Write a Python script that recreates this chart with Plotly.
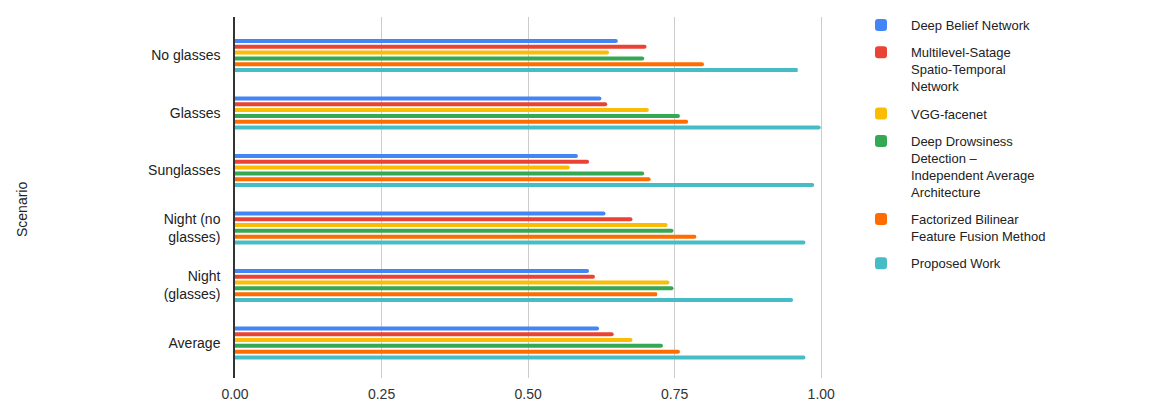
import plotly.graph_objects as go

# Scenario categories (top to bottom) and their axis tick labels
scenarios = ["No glasses", "Glasses", "Sunglasses", "Night (no glasses)", "Night (glasses)", "Average"]
scenario_ticks = ["No glasses", "Glasses", "Sunglasses", "Night (no<br>glasses)", "Night<br>(glasses)", "Average"]

# Methods compared (legend names) and their colours
methods = [
    "Deep Belief Network",
    "Multilevel-Satage<br>Spatio-Temporal<br>Network",
    "VGG-facenet",
    "Deep Drowsiness<br>Detection –<br>Independent Average<br>Architecture",
    "Factorized Bilinear<br>Feature Fusion Method",
    "Proposed Work",
]
colors = ["#4285F4", "#EA4335", "#FBBC04", "#34A853", "#FF6D01", "#46BDC6"]

# Accuracy per scenario for each method
deep_belief = [0.653, 0.625, 0.585, 0.632, 0.604, 0.621]
multilevel_stn = [0.702, 0.635, 0.604, 0.678, 0.614, 0.646]
vgg_facenet = [0.638, 0.706, 0.571, 0.738, 0.741, 0.678]
deep_drowsiness = [0.698, 0.759, 0.698, 0.748, 0.748, 0.730]
factorized_bilinear = [0.800, 0.773, 0.709, 0.787, 0.720, 0.759]
proposed_work = [0.960, 0.999, 0.988, 0.973, 0.952, 0.973]

series = [deep_belief, multilevel_stn, vgg_facenet, deep_drowsiness, factorized_bilinear, proposed_work]

x_ticks = [0.0, 0.25, 0.5, 0.75, 1.0]

FONT = "Liberation Sans, Arial, sans-serif"

fig = go.Figure()
for i, (name, vals, col) in enumerate(zip(methods, series, colors)):
    fig.add_trace(go.Bar(
        y=scenarios,
        x=vals,
        name=name,
        orientation="h",
        marker=dict(color=col, line=dict(width=0), cornerradius=2),
        legendgroup=f"g{i}",
    ))

W, H = 1173, 401
ML, MR, MT, MB = 235, 350, 17, 23
plot_w = W - ML - MR
plot_h = H - MT - MB

fig.update_layout(
    width=W,
    height=H,
    margin=dict(l=ML, r=MR, t=MT, b=MB, autoexpand=False),
    paper_bgcolor="white",
    plot_bgcolor="white",
    barmode="group",
    bargap=0.395,
    bargroupgap=0.31,
    font=dict(family=FONT, size=14, color="#222222"),
    showlegend=True,
    legend=dict(
        xref="container",
        yref="container",
        x=851 / W,
        y=1 - 10 / H,
        xanchor="left",
        yanchor="top",
        valign="top",
        traceorder="grouped",
        tracegroupgap=7.5,
        itemwidth=50,
        maxheight=390,
        font=dict(family=FONT, size=13, color="#222222"),
        bgcolor="rgba(0,0,0,0)",
    ),
    xaxis=dict(
        range=[0, 1.003],
        tickvals=x_ticks,
        tickformat=".2f",
        showgrid=True,
        gridcolor="#cccccc",
        gridwidth=1,
        zeroline=False,
        showline=False,
        ticks="",
        ticklabelstandoff=6,
        automargin=False,
        tickfont=dict(family=FONT, size=14, color="#333333"),
    ),
    yaxis=dict(
        type="category",
        categoryorder="array",
        categoryarray=scenarios,
        tickvals=scenarios,
        ticktext=scenario_ticks,
        range=[5.61, -0.67],
        showgrid=False,
        zeroline=False,
        showline=True,
        linecolor="#333333",
        linewidth=1.5,
        ticks="",
        ticklabelstandoff=10,
        automargin=False,
        tickfont=dict(family=FONT, size=14, color="#222222"),
    ),
    annotations=[dict(
        text="Scenario",
        xref="paper",
        yref="paper",
        x=(22 - ML) / plot_w,
        y=(H - MB - 210) / plot_h,
        xanchor="center",
        yanchor="middle",
        textangle=-90,
        showarrow=False,
        font=dict(family=FONT, size=14, color="#222222"),
    )],
)

fig.write_html("out.html")
